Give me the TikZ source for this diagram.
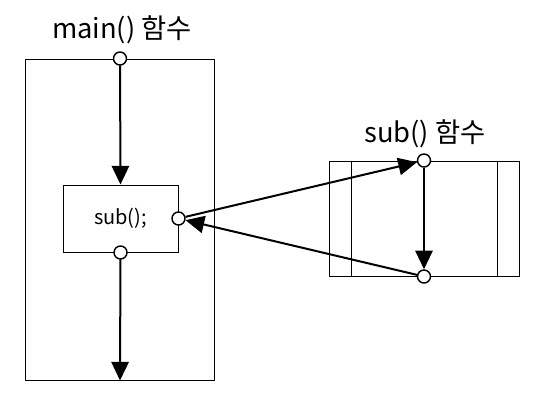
\documentclass[tikz,border=0pt]{standalone}
\usepackage{fontspec}
\setmainfont{Noto Sans CJK KR}
\usetikzlibrary{arrows.meta,positioning,calc}

\begin{document}
\begin{tikzpicture}[x=0.75pt, y=-0.75pt,
  frame/.style={draw, line width=0.75pt, inner sep=0pt},
  port/.style={circle, draw, line width=1.1pt, fill=white, inner sep=0pt, minimum size=9.75pt},
  title/.style={font=\fontsize{20.5}{24}\selectfont, inner sep=0pt},
  arr/.style={-{Triangle[length=14pt,width=13pt]}, line width=1.5pt}
]
  \useasboundingbox (0,0) rectangle (536,405);
  % main() side
  \node[frame, minimum width=141.75pt, minimum height=240.75pt] (mainbox) at (120,219.5) {};
  \node[frame, minimum width=86.25pt, minimum height=50.25pt, font=\fontsize{15}{18}\selectfont] (callbox) at (120.5,218.5) {sub();};
  \node[title] (maintitle) at (122,30) {main() 함수};
  \node[port] (mtop) at (mainbox.north) {};
  \node[port] (callport) at (callbox.east) {};
  \node[port] (callbot) at (callbox.south) {};
  % sub() side
  \node[frame, minimum width=142.5pt, minimum height=86.25pt] (subbox) at (424,218.5) {};
  \draw[line width=0.75pt] ($(subbox.north west)+(23,0)$) -- ($(subbox.south west)+(23,0)$);
  \draw[line width=0.75pt] ($(subbox.north east)+(-22,0)$) -- ($(subbox.south east)+(-22,0)$);
  \node[title] (subtitle) at (425,134) {sub() 함수};
  \node[port] (stop) at (subbox.north) {};
  \node[port] (sbot) at (subbox.south) {};
  % flow
  \draw[arr] (mtop) -- (callbox.north);
  \draw[arr] (callbot) -- (mainbox.south);
  \draw[arr] (callport) -- (stop);
  \draw[arr] (stop) -- (sbot);
  \draw[arr] (sbot) -- (callport);
\end{tikzpicture}
\end{document}
